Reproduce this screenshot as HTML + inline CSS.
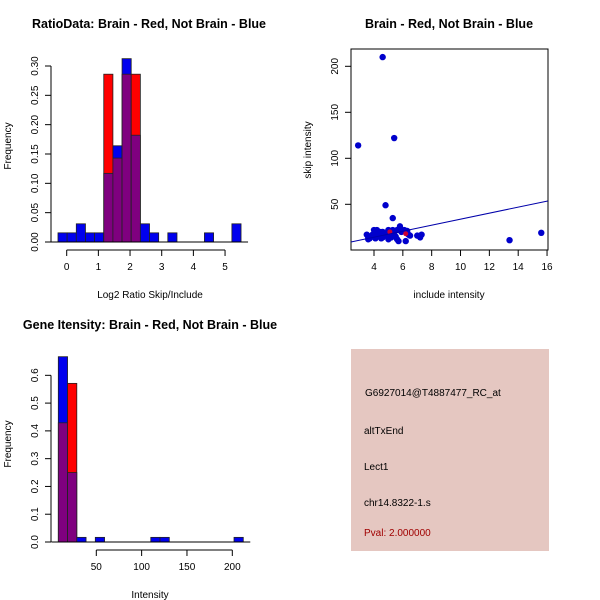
<!DOCTYPE html>
<html><head><meta charset="utf-8"><style>
html,body{margin:0;padding:0;background:#fff}
svg{display:block;font-family:"Liberation Sans",sans-serif}
</style></head><body>
<svg id="s" width="600" height="600" viewBox="0 0 600 600">
<rect width="600" height="600" fill="#fff"/>
<text x="149" y="28" font-size="12.5" font-weight="bold" text-anchor="middle">RatioData: Brain - Red, Not Brain - Blue</text>
<text x="449" y="28" font-size="12.5" font-weight="bold" text-anchor="middle">Brain - Red, Not Brain - Blue</text>
<text x="150" y="329" font-size="12.5" font-weight="bold" text-anchor="middle">Gene Itensity: Brain - Red, Not Brain - Blue</text>
<text x="150" y="298" font-size="10" text-anchor="middle">Log2 Ratio Skip/Include</text>
<text x="449" y="298" font-size="10" text-anchor="middle">include intensity</text>
<text x="150" y="598" font-size="10" text-anchor="middle">Intensity</text>
<text transform="translate(11,146) rotate(-90)" font-size="10" text-anchor="middle">Frequency</text>
<text transform="translate(311,150) rotate(-90)" font-size="10" text-anchor="middle">skip intensity</text>
<text transform="translate(11,444) rotate(-90)" font-size="10" text-anchor="middle">Frequency</text>
<g>
<rect x="351" y="349" width="198" height="202" fill="#e5c7c1"/>
<text x="365" y="396" font-size="10">G6927014@T4887477_RC_at</text>
<text x="364" y="434" font-size="10">altTxEnd</text>
<text x="364" y="470" font-size="10">Lect1</text>
<text x="364" y="506" font-size="10">chr14.8322-1.s</text>
<text x="364" y="536" font-size="10" fill="#a00000">Pval: 2.000000</text>
</g>
</svg>
<script>
// Ratio histogram data
const ratioBlue=[0.0156,0.0156,0.031,0.0156,0.0156,0.117,0.164,0.3125,0.182,0.031,0.0156,0,0.0156,0,0,0,0.0156,0,0,0.031];
const ratioRed=[0,0,0,0,0,0.286,0.143,0.286,0.286,0,0,0,0,0,0,0,0,0,0,0];
const ratioBinStart=-0.275, ratioBinWidth=0.289;
const ratioXTicks=[0,1,2,3,4,5];
const ratioYTicks=["0.00","0.05","0.10","0.15","0.20","0.25","0.30"];
// Intensity histogram data
const intBlue=[0.667,0.25,0.0167,0,0.0167,0,0,0,0,0,0.0167,0.0167,0,0,0,0,0,0,0,0.0167];
const intRed=[0.429,0.571,0,0,0,0,0,0,0,0,0,0,0,0,0,0,0,0,0,0];
const intBinStart=8.1, intBinWidth=10.2;
const intXTicks=[50,100,150,200];
const intYTicks=["0.0","0.1","0.2","0.3","0.4","0.5","0.6"];
// Scatter data
const scX=[4.6,2.9,5.4,4.8,5.3,13.4,15.6,6.2,5.7,7.2,7.3,7.0,6.4,6.3,6.1,5.8,5.6,5.4,5.2,5.0,4.8,4.6,4.4,4.2,4.0,4.1,3.9,3.6,3.5,3.7,4.3,4.5,4.7,4.9,5.1,5.3,5.5,5.6,4.2,3.8,4.4,4.6,5.9,6.5,3.6,4.0,5.0,5.2];
const scY=[210,114,122,49,35,11,19,10,10,14,17,16,17,21,22,26,22,20,14,22,18,20,15,22,22,13,17,14,17,13,17,13,16,19,17,22,15,12,18,15,20,14,20,16,12,16,12,18];
const scRedX=[6.2,5.1];
const scRedY=[18,20];
const fitLine=[2.4,9,16.05,53.6];
const scXTicks=[4,6,8,10,12,14,16];
const scYTicks=[50,100,150,200];

const S=document.getElementById('s');const NS='http://www.w3.org/2000/svg';
function mk(t,a,p){const e=document.createElementNS(NS,t);for(const k in a)e.setAttribute(k,a[k]);(p||S).appendChild(e);return e;}
function txt(x,y,s,a){const e=mk('text',Object.assign({x:x,y:y,'font-size':10,'text-anchor':'middle'},a||{}));e.textContent=s;return e;}

function hist(blue,red,start,w,xs,ys,xTicks,yTicks,yTickVals,xAxisY,name){
  const g=mk('g',{});
  
  
  for(let i=0;i<blue.length;i++){
    const x0=xs(start+i*w),x1=xs(start+(i+1)*w);
    const b=blue[i],r=red[i],lo=Math.min(b,r),hi=Math.max(b,r);
    if(hi<=0)continue;
    const col=b>=r?'#0000ee':'#ff0000';
    const bar=mk('rect',{x:x0,y:ys(hi),width:x1-x0,height:ys(0)-ys(hi),fill:col,stroke:'#222','stroke-width':0.8},g);
    
    
    if(lo>0){const p=mk('rect',{x:x0,y:ys(lo),width:x1-x0,height:ys(0)-ys(lo),fill:'#7f007f',stroke:'#222','stroke-width':0.8},g);
    
    }
  }
  const yv=yTickVals;
  mk('line',{x1:51,x2:51,y1:ys(yv[0]),y2:ys(yv[yv.length-1]),stroke:'#000'},g);
  yv.forEach((v,i)=>{mk('line',{x1:45,x2:51,y1:ys(v),y2:ys(v),stroke:'#000'},g);
    const t=txt(0,0,yTicks[i],{transform:`translate(38,${ys(v)}) rotate(-90)`});g.appendChild(t);});
  mk('line',{x1:xs(xTicks[0]),x2:xs(xTicks[xTicks.length-1]),y1:xAxisY,y2:xAxisY,stroke:'#000'},g);
  xTicks.forEach(v=>{mk('line',{x1:xs(v),x2:xs(v),y1:xAxisY,y2:xAxisY+6,stroke:'#000'},g);g.appendChild(txt(xs(v),xAxisY+20,String(v)));});
  mk('line',{x1:xs(start)-7,x2:xs(start+blue.length*w)+7,y1:ys(0),y2:ys(0),stroke:'#000'},g);
}
hist(ratioBlue,ratioRed,ratioBinStart,ratioBinWidth,v=>66.7+v*31.67,v=>242-v*586.7,ratioXTicks,ratioYTicks,[0,0.05,0.1,0.15,0.2,0.25,0.3],250,'ratio-histogram');
hist(intBlue,intRed,intBinStart,intBinWidth,v=>96.3+(v-50)*0.9067,v=>542-v*277.8,intXTicks,intYTicks,[0,0.1,0.2,0.3,0.4,0.5,0.6],550,'intensity-histogram');

const sx=v=>374+(v-4)*14.42, sy=v=>204.3-(v-50)*0.92;
const sg=mk('g',{});


mk('rect',{x:351,y:49,width:197,height:201,fill:'none',stroke:'#000'},sg);
scXTicks.forEach(v=>{mk('line',{x1:sx(v),x2:sx(v),y1:250,y2:256,stroke:'#000'},sg);sg.appendChild(txt(sx(v),270,String(v)));});
scYTicks.forEach(v=>{mk('line',{x1:345,x2:351,y1:sy(v),y2:sy(v),stroke:'#000'},sg);sg.appendChild(txt(0,0,String(v),{transform:`translate(338,${sy(v)}) rotate(-90)`}));});
for(let i=0;i<scX.length;i++){const c=mk('circle',{cx:sx(scX[i]),cy:sy(scY[i]),r:3.2,fill:'#0000cc'},sg);

}
for(let i=0;i<scRedX.length;i++){const c=mk('circle',{cx:sx(scRedX[i]),cy:sy(scRedY[i]),r:2.5,fill:'#cc0033'},sg);

}
const fl=mk('line',{x1:sx(fitLine[0]),y1:sy(fitLine[1]),x2:sx(fitLine[2]),y2:sy(fitLine[3]),stroke:'#0000aa','stroke-width':1},sg);


</script>
</body></html>
